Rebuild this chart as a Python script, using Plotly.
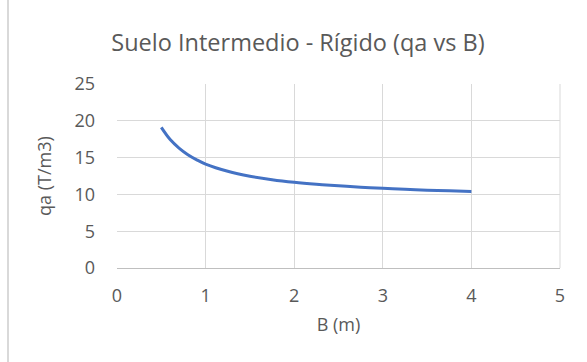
import plotly.graph_objects as go

# Allowable bearing capacity vs footing width
B_m = [0.5, 0.6, 0.7, 0.8, 0.9, 1.0, 1.25, 1.5, 1.75, 2.0, 2.25, 2.5, 2.75, 3.0, 3.25, 3.5, 3.75, 4.0]
qa = [19.1, 17.45, 16.3, 15.4, 14.7, 14.12, 13.14, 12.47, 12.0, 11.65, 11.38, 11.16, 10.98, 10.82, 10.69, 10.58, 10.48, 10.4]

x_ticks = [0, 1, 2, 3, 4, 5]
y_ticks = [0, 5, 10, 15, 20, 25]

FONT = "Open Sans"
TXT = "#595959"
GRID = "#d9d9d9"

L, R, T, Bm = 117, 27, 84, 94
PW, PH = 587 - L - R, 362 - T - Bm

fig = go.Figure()
fig.add_trace(go.Scatter(
    x=B_m, y=qa, mode="lines", line_shape="spline",
    line=dict(color="#4472c4", width=3), showlegend=False,
))

fig.update_layout(
    width=587, height=362,
    margin=dict(l=L, r=R, t=T, b=Bm),
    paper_bgcolor="white", plot_bgcolor="white",
    title=dict(text="Suelo Intermedio - Rígido (qa vs B)", x=298 / 587, xanchor="center",
               y=1 - 43 / 362, yanchor="middle",
               font=dict(family=FONT, size=23.5, color=TXT)),
    xaxis=dict(range=[0, 5], tickvals=x_ticks, showgrid=True, gridcolor=GRID, gridwidth=1,
               zeroline=False, showline=True, linecolor="#bfbfbf", linewidth=1,
               ticks="", ticklabelstandoff=11,
               tickfont=dict(family=FONT, size=18, color=TXT),
               title=dict(text="B (m)", font=dict(family=FONT, size=18, color=TXT), standoff=12)),
    yaxis=dict(range=[0, 25], tickvals=y_ticks, showgrid=True, gridcolor=GRID, gridwidth=1,
               zeroline=False, showline=False, ticks="", ticklabelstandoff=21,
               tickfont=dict(family=FONT, size=18, color=TXT),
               title=dict(text="qa (T/m3)", font=dict(family=FONT, size=18, color=TXT), standoff=18)),
    shapes=[dict(type="line", xref="paper", yref="paper", x0=1, x1=1, y0=0, y1=1,
                 line=dict(color=GRID, width=1))],
)

# chart frame
fig.add_shape(type="rect", xref="paper", yref="paper",
              x0=(8 - L) / PW, x1=1.3,
              y0=-1.0, y1=(362 - T - 9) / PH,
              line=dict(color="#d9d9d9", width=2), layer="below")

fig.write_html("out.html")
